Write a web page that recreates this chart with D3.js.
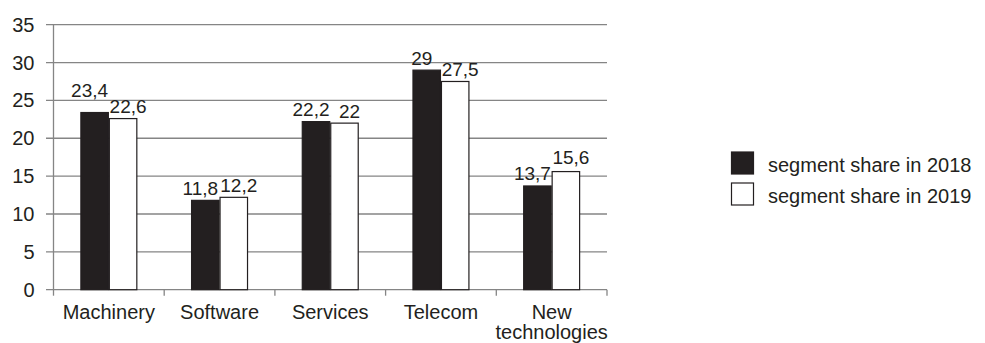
<!DOCTYPE html>
<html>
<head>
<meta charset="utf-8">
<script src="https://cdn.jsdelivr.net/npm/d3@7"></script>
<style>
  html, body { margin: 0; padding: 0; background: #fff; }
  svg { display: block; }
  text { font-family: "Liberation Sans", Arial, sans-serif; fill: #231f20; }
</style>
</head>
<body>
<svg id="chart" width="985" height="343"></svg>
<script>
const categories = ["Machinery", "Software", "Services", "Telecom", "New technologies"];
const seriesNames = ["segment share in 2018", "segment share in 2019"];
const values2018 = [23.4, 11.8, 22.2, 29, 13.7];
const values2019 = [22.6, 12.2, 22, 27.5, 15.6];
const yTicks = [0, 5, 10, 15, 20, 25, 30, 35];

const seriesValues = [values2018, values2019];
const fills = ["#231f20", "#ffffff"];
const fmt = v => String(v).replace(".", ",");

const svg = d3.select("#chart");
const plotL = 53.5, plotR = 607, plotT = 24.7, plotB = 289.7;

const x0 = d3.scaleBand().domain(categories).range([plotL, plotR]).padding(0);
const x1 = d3.scaleBand().domain([0, 1]).range([0, x0.bandwidth()]).paddingInner(0).paddingOuter(0.944);
const y = d3.scaleLinear().domain([0, 35]).range([plotB, plotT]);

// gridlines + y ticks
const gy = svg.append("g");
gy.selectAll("line.grid").data(yTicks).join("line")
  .attr("x1", plotL - 7.5).attr("x2", plotR)
  .attr("y1", d => y(d)).attr("y2", d => y(d))
  .attr("stroke", "#858585").attr("stroke-width", 1.3);
gy.selectAll("text").data(yTicks).join("text")
  .attr("x", 34.5).attr("y", d => y(d) + 7)
  .attr("text-anchor", "end").attr("font-size", 20)
  .text(d => d);

// y axis line
svg.append("line").attr("x1", plotL).attr("x2", plotL).attr("y1", y(35)).attr("y2", plotB)
  .attr("stroke", "#858585").attr("stroke-width", 1.3);

// category ticks at band boundaries
const bounds = categories.map(c => x0(c)).concat([plotR]);
svg.append("g").selectAll("line").data(bounds).join("line")
  .attr("x1", d => d).attr("x2", d => d)
  .attr("y1", plotB).attr("y2", plotB + 6)
  .attr("stroke", "#858585").attr("stroke-width", 1.3);

// bars
const groups = svg.append("g").selectAll("g").data(categories).join("g")
  .attr("transform", c => `translate(${x0(c)},0)`);
groups.selectAll("rect").data((c, i) => seriesValues.map((s, k) => ({k, v: s[i]}))).join("rect")
  .attr("x", d => x1(d.k) + 0.5)
  .attr("width", x1.bandwidth() - 1)
  .attr("y", d => y(d.v))
  .attr("height", d => y(0) - y(d.v))
  .attr("fill", d => fills[d.k])
  .attr("stroke", "#231f20").attr("stroke-width", 1.2);

// value labels with simple collision avoidance
const fs = 19;
const widthOf = s => s.length * fs * 0.5;
categories.forEach((c, i) => {
  const labs = seriesValues.map((s, k) => {
    const t = fmt(s[i]);
    const cx = x0(c) + x1(k) + x1.bandwidth() / 2 + (k === 0 ? -5 : 5);
    return {t, cx, yb: y(s[i]) - 5.5, barTop: y(s[i])};
  });
  const gap = (labs[1].cx - widthOf(labs[1].t) / 2) - (labs[0].cx + widthOf(labs[0].t) / 2);
  const diff = labs[1].barTop - labs[0].barTop;
  if (gap < 6 && Math.abs(diff) > 4) {
    if (diff > 0) labs[0].yb = Math.min(labs[0].yb, labs[1].yb - 16.5);
    else labs[1].yb = Math.min(labs[1].yb, labs[0].yb - 16.5);
  }
  labs.forEach(l => {
    svg.append("text").attr("x", l.cx).attr("y", l.yb)
      .attr("text-anchor", "middle").attr("font-size", fs).text(l.t);
  });
});

// category labels
const cl = svg.append("g").selectAll("text").data(categories).join("text")
  .attr("x", c => x0(c) + x0.bandwidth() / 2)
  .attr("y", 319)
  .attr("text-anchor", "middle").attr("font-size", 20);
cl.each(function(c) {
  const words = c.split(" ");
  const el = d3.select(this);
  if (words.length > 1) {
    words.forEach((w, j) => el.append("tspan")
      .attr("x", x0(c) + x0.bandwidth() / 2)
      .attr("dy", j === 0 ? 0 : 20).text(w));
  } else el.text(c);
});

// legend
const lg = svg.append("g").selectAll("g").data(seriesNames).join("g")
  .attr("transform", (d, i) => `translate(731,${152 + i * 31})`);
lg.append("rect").attr("x", 0.5).attr("y", 0).attr("width", 22).attr("height", 22)
  .attr("fill", (d, i) => fills[i]).attr("stroke", "#231f20").attr("stroke-width", 1.2);
lg.append("text").attr("x", 37).attr("y", 20).attr("font-size", 20).text(d => d);
</script>
</body>
</html>
